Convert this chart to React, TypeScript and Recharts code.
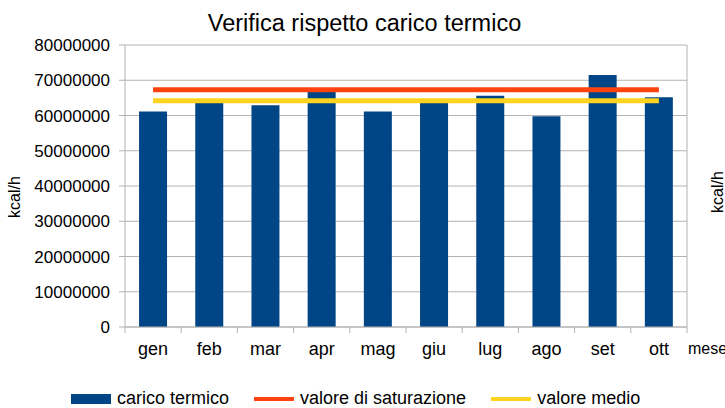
import { ComposedChart, Bar, Line, XAxis, YAxis, CartesianGrid, Legend } from 'recharts';

const mesi = ['gen', 'feb', 'mar', 'apr', 'mag', 'giu', 'lug', 'ago', 'set', 'ott'];
const caricoTermico = [61100000, 63600000, 62900000, 66700000, 61100000, 63600000, 65600000, 59800000, 71500000, 65200000];
const valoreSaturazione = [67300000, 67300000, 67300000, 67300000, 67300000, 67300000, 67300000, 67300000, 67300000, 67300000];
const valoreMedio = [64200000, 64200000, 64200000, 64200000, 64200000, 64200000, 64200000, 64200000, 64200000, 64200000];
const yTicks = [0, 10000000, 20000000, 30000000, 40000000, 50000000, 60000000, 70000000, 80000000];

const FONT = '"Liberation Sans", Arial, sans-serif';
const GRIGIO = '#b3b3b3';
const BLU = '#004586';
const ROSSO = '#ff420e';
const GIALLO = '#ffd320';
const X_MARGINE = 15; // distanza testo mese dall'asse

const legendaVoci = [
    { nome: 'carico termico', colore: BLU, tipo: 'rect' },
    { nome: 'valore di saturazione', colore: ROSSO, tipo: 'line' },
    { nome: 'valore medio', colore: GIALLO, tipo: 'line' },
];

function Legenda() {
    return (
        <div
            style={{
                display: 'flex',
                alignItems: 'center',
                height: 40,
                paddingTop: 21,
                paddingLeft: 71,
                boxSizing: 'border-box',
                fontFamily: FONT,
                fontSize: 18,
                lineHeight: '19px',
                color: '#000',
            }}
        >
            {legendaVoci.map((v) => (
                <div key={v.nome} style={{ display: 'flex', alignItems: 'center', marginRight: 25 }}>
                    <div
                        style={{
                            width: 40,
                            height: v.tipo === 'rect' ? 10 : 4,
                            background: v.colore,
                            marginRight: 6,
                        }}
                    />
                    <span>{v.nome}</span>
                </div>
            ))}
        </div>
    );
}

// etichetta del mese con tacca sul confine tra le categorie
function TickMese(props: any) {
    const { x, y, payload, index, visibleTicksCount } = props;
    const meta = payload?.offset ?? 28;
    const yAsse = y - X_MARGINE;
    const ultimo = index === (visibleTicksCount ?? mesi.length) - 1;
    return (
        <g>
            <line x1={x - meta} x2={x - meta} y1={yAsse} y2={yAsse + 6} stroke={GRIGIO} />
            {ultimo && <line x1={x + meta} x2={x + meta} y1={yAsse} y2={yAsse + 6} stroke={GRIGIO} />}
            <text x={x} y={y} dy="0.71em" textAnchor="middle" fill="#000" fontSize={18} fontFamily={FONT}>
                {payload.value}
            </text>
        </g>
    );
}

export default function App() {
    const data = mesi.map((m, i) => ({
        mese: m,
        carico: caricoTermico[i],
        saturazione: valoreSaturazione[i],
        medio: valoreMedio[i],
    }));

    return (
        <div style={{ position: 'absolute', left: 0, top: 0, width: 725, height: 408, background: '#fff', fontFamily: FONT }}>
            <div
                style={{
                    position: 'absolute',
                    top: 12,
                    left: 0,
                    width: 729,
                    textAlign: 'center',
                    fontSize: 23.5,
                    lineHeight: 1,
                    color: '#000',
                }}
            >
                Verifica rispetto carico termico
            </div>
            <div
                style={{
                    position: 'absolute',
                    left: 15,
                    top: 197,
                    transform: 'translate(-50%, -50%) rotate(-90deg)',
                    fontSize: 16,
                    whiteSpace: 'nowrap',
                }}
            >
                kcal/h
            </div>
            <div
                style={{
                    position: 'absolute',
                    left: 718,
                    top: 192,
                    transform: 'translate(-50%, -50%) rotate(-90deg)',
                    fontSize: 16,
                    whiteSpace: 'nowrap',
                }}
            >
                kcal/h
            </div>
            <div style={{ position: 'absolute', left: 688, top: 341, fontSize: 16, lineHeight: 1, whiteSpace: 'nowrap' }}>
                mese
            </div>
            <ComposedChart
                width={725}
                height={408}
                data={data}
                margin={{ top: 45, right: 0, bottom: 0, left: 0 }}
                barCategoryGap="25%"
                style={{ fontFamily: FONT }}
            >
                <CartesianGrid vertical={false} stroke={GRIGIO} />
                <XAxis
                    dataKey="mese"
                    tickLine={false}
                    tickSize={0}
                    axisLine={{ stroke: GRIGIO }}
                    tick={<TickMese />}
                    tickMargin={X_MARGINE}
                    interval={0}
                    height={41}
                />
                <YAxis
                    domain={[0, 80000000]}
                    ticks={yTicks}
                    interval={0}
                    width={125}
                    axisLine={{ stroke: GRIGIO }}
                    tickLine={{ stroke: GRIGIO }}
                    tickSize={6}
                    tickMargin={9}
                    tick={{ fill: '#000', fontSize: 17 }}
                />
                <YAxis
                    yAxisId="destra"
                    orientation="right"
                    domain={[0, 80000000]}
                    width={38}
                    tick={false}
                    tickLine={false}
                    axisLine={{ stroke: GRIGIO }}
                />
                <Legend verticalAlign="bottom" content={() => <Legenda />} />
                <Bar dataKey="carico" name="carico termico" fill={BLU} isAnimationActive={false} />
                <Line
                    dataKey="saturazione"
                    name="valore di saturazione"
                    stroke={ROSSO}
                    strokeWidth={5}
                    dot={false}
                    activeDot={false}
                    isAnimationActive={false}
                />
                <Line
                    dataKey="medio"
                    name="valore medio"
                    stroke={GIALLO}
                    strokeWidth={5}
                    dot={false}
                    activeDot={false}
                    isAnimationActive={false}
                />
            </ComposedChart>
        </div>
    );
}
